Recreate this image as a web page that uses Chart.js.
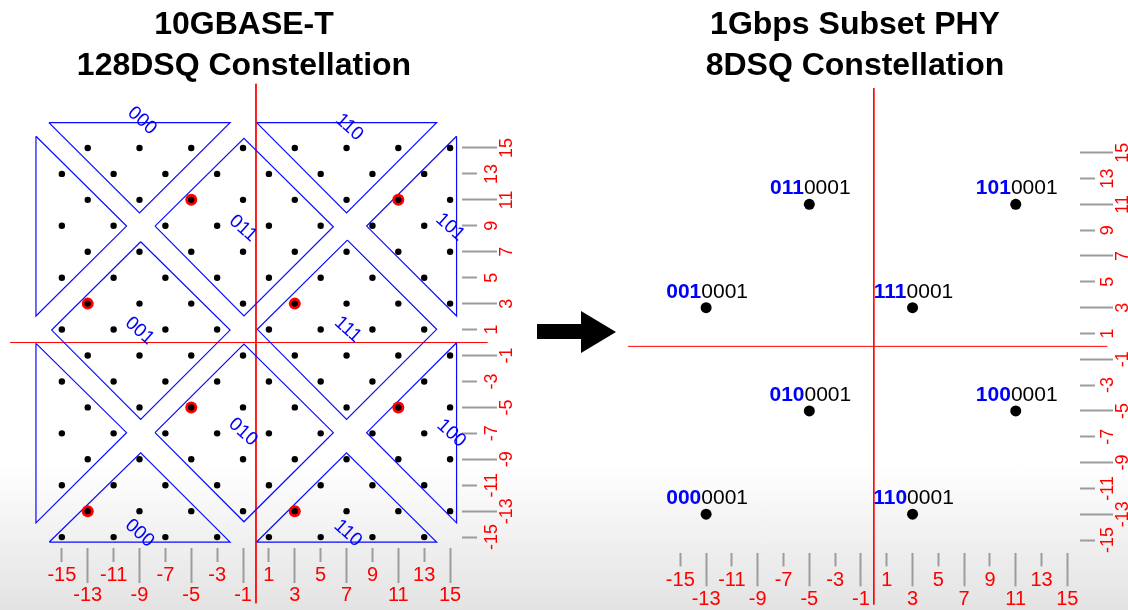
<!DOCTYPE html>
<html><head><meta charset="utf-8">
<script src="https://cdn.jsdelivr.net/npm/chart.js@4.4.1/dist/chart.umd.min.js"></script>
<style>
html,body{margin:0;padding:0;}
body{width:1128px;height:610px;position:relative;overflow:hidden;
 background:linear-gradient(180deg,#ffffff 0%,#ffffff 76%,#f2f2f2 87%,#e3e3e3 100%);}
canvas{position:absolute;top:0;}
#left{left:0;} #right{left:600px;}
#arrow{position:absolute;left:535px;top:309px;}
</style></head><body>
<canvas id="left" width="540" height="610"></canvas>
<svg id="arrow" width="84" height="48"><polygon points="2,15 46,15 46,2 81,23 46,44 46,30 2,30" fill="#000"/></svg>
<canvas id="right" width="528" height="610"></canvas>
<script>
// ---------- data ----------
const LEFT_TITLE = ['10GBASE-T', '128DSQ Constellation'];
const RIGHT_TITLE = ['1Gbps Subset PHY', '8DSQ Constellation'];
const AXIS_TICKS = [-15,-13,-11,-9,-7,-5,-3,-1,1,3,5,7,9,11,13,15];
const LONG_TICKS = [-13,-9,-5,-1,3,7,11,15];

// 128DSQ lattice rows (y) and the columns (x) used on those rows
const ROWS_A = [15,11,7,3,-1,-5,-9,-13];
const COLS_A = [-13,-9,-5,-1,3,7,11,15];
const ROWS_B = [13,9,5,1,-3,-7,-11,-15];
const COLS_B = [-15,-11,-7,-3,1,5,9,13];

// 8DSQ subset points (highlighted red on the left)
const SUBSET_X = [-5,11,-13,3,-5,11,-13,3];
const SUBSET_Y = [11,11,3,3,-5,-5,-13,-13];
const SUBSET_CODE = ['011','101','001','111','010','100','000','110'];
const SUBSET_SUFFIX = '0001';

// region outlines on the 128DSQ constellation
const REGION_000_TOP = [[-16,16.95],[-2,16.95],[-9,10]];
const REGION_LEFT_UP = [[-17,15.9],[-17,2.05],[-10,8.98]];
const REGION_011 = [[-7.8,8.98],[-0.93,15.75],[5.98,8.93],[-0.93,2.05]];
const REGION_110_TOP = [[0.05,16.95],[13.96,16.95],[7,10]];
const REGION_101 = [[15.5,15.9],[15.5,2.05],[8.55,8.98]];
const REGION_001 = [[-8.91,7.77],[-15.79,0.96],[-8.91,-5.92],[-2,0.96]];
const REGION_111 = [[7.06,7.9],[0.1,1.02],[7,-5.92],[13.96,1.02]];
const REGION_LEFT_LOW = [[-17,-0.06],[-17,-13.9],[-10,-6.95]];
const REGION_010 = [[-7.8,-6.95],[-0.93,-0.12],[5.98,-6.95],[-0.93,-13.82]];
const REGION_000_BOT = [[-15.97,-15.38],[-2,-15.38],[-8.91,-8.5]];
const REGION_100 = [[15.5,-0.02],[15.5,-13.9],[8.55,-6.95]];
const REGION_110_BOT = [[0.05,-15.38],[13.96,-15.38],[7,-8.5]];

const REGION_LABELS = ['000','011','001','110','101','111','010','100','000','110'];
const REGION_LABEL_X = [-8.8,-1,-9,7.2,15,7.1,-1,15.1,-9,7.1];
const REGION_LABEL_Y = [17.1,8.8,0.9,16.6,8.9,1,-6.9,-7,-14.7,-14.7];

// extents of the red axis cross lines
const LEFT_AXIS_X = [-19, 17.9];
const LEFT_AXIS_Y = [19.95, -20.1];
const RIGHT_AXIS_X = [-19.05, 18.1];
const RIGHT_AXIS_Y = [20, -20];

// ---------- helpers ----------
const FONT = '"Liberation Sans", Arial, Helvetica, sans-serif';
const isLong = v => LONG_TICKS.includes(v);
const toPts = arr => arr.map(p => ({x: p[0], y: p[1]}));
const closed = arr => toPts(arr.concat([arr[0]]));
const lattice = ROWS_A.flatMap(y => COLS_A.map(x => ({x, y})))
  .concat(ROWS_B.flatMap(y => COLS_B.map(x => ({x, y}))));
const subset = SUBSET_X.map((x, i) => ({x, y: SUBSET_Y[i]}));

function axisLines(ax, ay) {
  return [
    {data: [{x: ax[0], y: 0}, {x: ax[1], y: 0}], showLine: true, pointRadius: 0,
     borderColor: '#ff0000', borderWidth: 1, clip: false, order: 5},
    {data: [{x: 0, y: ay[0]}, {x: 0, y: ay[1]}], showLine: true, pointRadius: 0,
     borderColor: '#ff0000', borderWidth: 1, clip: false, order: 5}
  ];
}

function scales(p) {
  return {
    x: {
      type: 'linear', position: 'bottom', min: p.xmin, max: p.xmax,
      afterBuildTicks: s => { s.ticks = AXIS_TICKS.map(v => ({value: v})); },
      afterFit: s => { s.height = p.xh; },
      border: {display: false},
      grid: {drawOnChartArea: false, drawTicks: true, tickLength: p.xtl, tickWidth: 2, tickColor: '#9c9c9c',
             tickBorderDash: c => (c.tick && isLong(c.tick.value)) ? [] : [p.xshort, 300]},
      ticks: {autoSkip: false, minRotation: 0, maxRotation: 0, padding: p.xpad, color: '#ff0000',
              font: {family: FONT, size: 20, lineHeight: '19.5px'},
              callback: v => isLong(v) ? ['', String(v)] : [String(v)]}
    },
    y: {
      type: 'linear', position: 'right', min: p.ymin, max: p.ymax,
      afterBuildTicks: s => { s.ticks = AXIS_TICKS.map(v => ({value: v})); },
      afterFit: s => { s.width = p.yw; },
      border: {display: false},
      grid: {drawOnChartArea: false, drawTicks: true, tickLength: p.ytl, tickWidth: 2, tickColor: '#9c9c9c',
             tickBorderDash: c => (c.tick && isLong(c.tick.value)) ? [] : [15, 300]},
      ticks: {autoSkip: false, minRotation: 90, maxRotation: 90, crossAlign: 'center', padding: -10.5,
              color: '#ff0000', font: {family: FONT, size: 18, lineHeight: '15px'},
              callback: v => isLong(v) ? ['', String(v)] : [String(v), '']}
    }
  };
}

function title(text) {
  return {display: true, text, fullSize: false, color: '#000',
          font: {family: FONT, size: 32, weight: 'bold', lineHeight: 1.275},
          padding: {top: 4.5, bottom: 0}};
}

const common = {responsive: false, animation: false, devicePixelRatio: 1, events: []};

// ---------- left chart ----------
const regions = [REGION_000_TOP, REGION_LEFT_UP, REGION_011, REGION_110_TOP, REGION_101, REGION_001,
                 REGION_111, REGION_LEFT_LOW, REGION_010, REGION_000_BOT, REGION_100, REGION_110_BOT];
new Chart(document.getElementById('left'), {
  type: 'scatter',
  data: {datasets: [
    {data: lattice, pointRadius: 3.2, backgroundColor: '#000', borderWidth: 0, order: 0},
    {data: subset, pointRadius: 6, backgroundColor: '#ff0000', borderWidth: 0, order: 1},
    ...regions.map(r => ({data: closed(r), showLine: true, pointRadius: 0, borderColor: '#0a0aff',
                          borderWidth: 1.2, tension: 0, clip: false, order: 3})),
    ...axisLines(LEFT_AXIS_X, LEFT_AXIS_Y)
  ]},
  options: Object.assign({}, common, {
    layout: {padding: {left: 26, top: 0, right: 0, bottom: 0}},
    plugins: {legend: {display: false}, tooltip: {enabled: false}, title: title(LEFT_TITLE)},
    scales: scales({xmin: -17.77, xmax: 15.92, ymin: -15.84, ymax: 19.77, xh: 62, yw: 78,
                    xtl: 35, xshort: 14, xpad: -17, ytl: 35})
  }),
  plugins: [{
    id: 'regionLabels',
    afterDatasetsDraw(chart) {
      const {ctx, scales: {x, y}} = chart;
      ctx.save();
      ctx.font = '19px ' + FONT;
      ctx.fillStyle = '#0000ff';
      ctx.textAlign = 'center';
      ctx.textBaseline = 'middle';
      REGION_LABELS.forEach((t, i) => {
        ctx.save();
        ctx.translate(x.getPixelForValue(REGION_LABEL_X[i]), y.getPixelForValue(REGION_LABEL_Y[i]));
        ctx.rotate(42 * Math.PI / 180);
        ctx.fillText(t, 0, 0);
        ctx.restore();
      });
      ctx.restore();
    }
  }]
});

// ---------- right chart ----------
new Chart(document.getElementById('right'), {
  type: 'scatter',
  data: {datasets: [
    {data: subset, pointRadius: 5.5, backgroundColor: '#000', borderWidth: 0, order: 0},
    ...axisLines(RIGHT_AXIS_X, RIGHT_AXIS_Y)
  ]},
  options: Object.assign({}, common, {
    layout: {padding: {left: 30, top: 0, right: 0, bottom: 0}},
    plugins: {legend: {display: false}, tooltip: {enabled: false}, title: title(RIGHT_TITLE)},
    scales: scales({xmin: -18.9, xmax: 15.98, ymin: -16.03, ymax: 20.16, xh: 56.7, yw: 48,
                    xtl: 33, xshort: 13.4, xpad: -16, ytl: 33})
  }),
  plugins: [{
    id: 'codeLabels',
    afterDatasetsDraw(chart) {
      const {ctx, scales: {x, y}} = chart;
      const bold = 'bold 21px ' + FONT, normal = '21px ' + FONT;
      ctx.save();
      ctx.textAlign = 'left';
      ctx.textBaseline = 'alphabetic';
      SUBSET_CODE.forEach((code, i) => {
        const px = x.getPixelForValue(SUBSET_X[i]) + 1;
        const py = y.getPixelForValue(SUBSET_Y[i]) - 10;
        ctx.font = bold; const wb = ctx.measureText(code).width;
        ctx.font = normal; const wn = ctx.measureText(SUBSET_SUFFIX).width;
        const sx = px - (wb + wn) / 2;
        ctx.font = bold; ctx.fillStyle = '#0000ff'; ctx.fillText(code, sx, py);
        ctx.font = normal; ctx.fillStyle = '#000'; ctx.fillText(SUBSET_SUFFIX, sx + wb, py);
      });
      ctx.restore();
    }
  }]
});
</script>
</body></html>
